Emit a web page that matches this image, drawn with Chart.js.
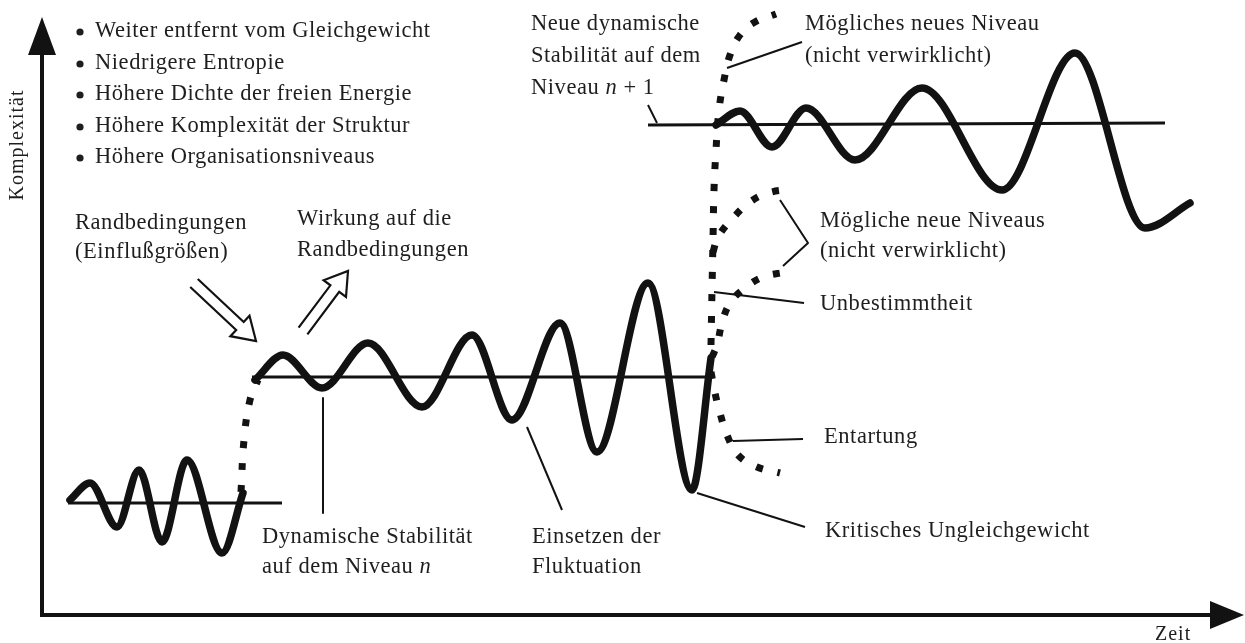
<!DOCTYPE html>
<html><head><meta charset="utf-8">
<script src="https://cdn.jsdelivr.net/npm/chart.js@4.4.0/dist/chart.umd.min.js"></script>
<style>html,body{margin:0;padding:0;background:#fff;overflow:hidden}canvas{display:block}</style>
</head><body>
<canvas id="c" width="1245" height="643"></canvas>
<script>
const lowWaveX  = [70, 90, 117, 139, 162, 187, 222, 243];
const lowWaveY  = [500, 483, 527, 470, 542, 460, 553, 493];
const midWaveX  = [255, 283, 322, 368, 422, 472, 512, 560, 597, 648, 692, 711];
const midWaveY  = [380, 355, 388, 343, 407, 335, 420, 323, 452, 283, 490, 358];
const highWaveX = [716, 740, 772, 806, 855, 922, 1002, 1075, 1145, 1190];
const highWaveY = [125, 111, 147, 108, 160, 88, 190, 53, 228, 203];

const levelLowX = [68, 282];   const levelLowY = [503, 503];
const levelMidX = [252, 712];  const levelMidY = [377, 377];
const levelHighX = [648, 1165]; const levelHighY = [125, 123];

const riseX = [241, 244, 250, 258];           const riseY = [492, 440, 400, 380];
const jumpX = [711, 712, 713, 714, 716, 719, 724, 730, 740, 755, 776];
const jumpY = [345, 290, 240, 190, 150, 110, 80, 55, 35, 22, 14];
const branchUpX = [713, 718, 733, 750, 768, 790];  const branchUpY = [252, 237, 218, 202, 193, 189];
const branchLowX = [712, 717, 722, 730, 745, 763, 786]; const branchLowY = [357, 345, 323, 303, 288, 277, 272];
const decayX = [711, 715, 720, 727, 738, 757, 780]; const decayY = [372, 393, 413, 435, 455, 467, 473];

const leaderLines = [
  [[323, 398], [323, 513]],
  [[527, 427], [562, 510]],
  [[697, 493], [805, 527]],
  [[733, 441], [803, 439]],
  [[714, 292], [804, 303]],
  [[780, 200], [808, 243], [783, 266]],
  [[727, 68], [802, 42]],
  [[648, 105], [657, 123]]
];

const bulletItems = ['Weiter entfernt vom Gleichgewicht', 'Niedrigere Entropie', 'Höhere Dichte der freien Energie', 'Höhere Komplexität der Struktur', 'Höhere Organisationsniveaus'];
const txtRand = ['Randbedingungen', '(Einflußgrößen)'];
const txtWirkung = ['Wirkung auf die', 'Randbedingungen'];
const txtDyn = ['Dynamische Stabilität', [['auf dem Niveau ', false], ['n', true]]];
const txtEins = ['Einsetzen der', 'Fluktuation'];
const txtNeue = ['Neue dynamische', 'Stabilität auf dem', [['Niveau ', false], ['n', true], [' + 1', false]]];
const txtMoeglich1 = ['Mögliches neues Niveau', '(nicht verwirklicht)'];
const txtMoeglich2 = ['Mögliche neue Niveaus', '(nicht verwirklicht)'];
const txtUnbest = ['Unbestimmtheit'];
const txtEnt = ['Entartung'];
const txtKrit = ['Kritisches Ungleichgewicht'];
const axisY = 'Komplexität';
const axisX = 'Zeit';

// ---- layout (positions in chart units) ----
const textBlocks = [
  {lines: txtRand, x: 75, y: [224, 253]},
  {lines: txtWirkung, x: 297, y: [220, 251]},
  {lines: txtDyn, x: 262, y: [538, 568]},
  {lines: txtEins, x: 532, y: [538, 568]},
  {lines: txtNeue, x: 531, y: [25, 57, 89]},
  {lines: txtMoeglich1, x: 805, y: [25, 57]},
  {lines: txtMoeglich2, x: 820, y: [222, 252]},
  {lines: txtUnbest, x: 820, y: [305]},
  {lines: txtEnt, x: 824, y: [438]},
  {lines: txtKrit, x: 825, y: [532]}
];
const bulletLayout = {x: 80, textX: 95, y: [32, 64, 95, 127, 158]};
const arrowsLayout = [
  {tail: [194, 283], tip: [256, 341]},
  {tail: [303, 331], tip: [348, 271]}
];
const axesLayout = {ox: 42, oy: 615, top: 17, right: 1244};

const pts = (xs, ys) => xs.map((x, i) => ({x: x, y: ys[i]}));
const INK = '#121212';
const TXT = '#1e1e1e';

function lineDs(xs, ys, w, extra) {
  return Object.assign({data: pts(xs, ys), borderColor: INK, borderWidth: w, pointRadius: 0,
    fill: false, clip: false, tension: 0, borderCapStyle: 'butt', borderJoinStyle: 'round'}, extra || {});
}
const datasets = [];
datasets.push(lineDs(levelLowX, levelLowY, 3));
datasets.push(lineDs(levelMidX, levelMidY, 3));
datasets.push(lineDs(levelHighX, levelHighY, 3));
leaderLines.forEach(l => datasets.push(lineDs(l.map(p => p[0]), l.map(p => p[1]), 2)));
const wave = {cubicInterpolationMode: 'monotone', borderCapStyle: 'round'};
datasets.push(lineDs(lowWaveX, lowWaveY, 7.5, wave));
datasets.push(lineDs(midWaveX, midWaveY, 7.5, wave));
datasets.push(lineDs(highWaveX, highWaveY, 7.5, wave));
const dots = {borderDash: [7, 15], tension: 0.4, borderWidth: 7};
[[riseX, riseY], [jumpX, jumpY], [branchUpX, branchUpY], [branchLowX, branchLowY], [decayX, decayY]]
  .forEach(d => datasets.push(lineDs(d[0], d[1], 7, dots)));

const decor = {
  id: 'decor',
  afterDatasetsDraw(chart) {
    const ctx = chart.ctx, sx = chart.scales.x, sy = chart.scales.y;
    const px = v => sx.getPixelForValue(v), py = v => sy.getPixelForValue(v);
    ctx.save();
    // axes
    const ox = px(axesLayout.ox), oy = py(axesLayout.oy);
    const top = py(axesLayout.top), right = px(axesLayout.right);
    ctx.strokeStyle = INK; ctx.fillStyle = INK; ctx.lineWidth = 4; ctx.lineCap = 'butt';
    ctx.beginPath(); ctx.moveTo(ox, oy + 2); ctx.lineTo(ox, top + 30); ctx.stroke();
    ctx.beginPath(); ctx.moveTo(ox - 2, oy); ctx.lineTo(right - 30, oy); ctx.stroke();
    ctx.beginPath(); ctx.moveTo(ox, top); ctx.lineTo(ox - 14, top + 38); ctx.lineTo(ox + 14, top + 38); ctx.closePath(); ctx.fill();
    ctx.beginPath(); ctx.moveTo(right, oy); ctx.lineTo(right - 34, oy - 14); ctx.lineTo(right - 34, oy + 14); ctx.closePath(); ctx.fill();
    // double arrows
    ctx.lineWidth = 2.2; ctx.lineJoin = 'miter';
    arrowsLayout.forEach(a => {
      const tx = px(a.tail[0]), ty = py(a.tail[1]), hx = px(a.tip[0]), hy = py(a.tip[1]);
      const L = Math.hypot(hx - tx, hy - ty), ux = (hx - tx) / L, uy = (hy - ty) / L, nx = -uy, ny = ux;
      const s = 5.5, w = 14, h = 22, bx = hx - ux * h, by = hy - uy * h;
      ctx.beginPath();
      ctx.moveTo(tx + nx * s, ty + ny * s);
      ctx.lineTo(bx + nx * s, by + ny * s);
      ctx.lineTo(bx + nx * w, by + ny * w);
      ctx.lineTo(hx, hy);
      ctx.lineTo(bx - nx * w, by - ny * w);
      ctx.lineTo(bx - nx * s, by - ny * s);
      ctx.lineTo(tx - nx * s, ty - ny * s);
      ctx.stroke();
    });
    // text
    ctx.fillStyle = TXT; ctx.textBaseline = 'alphabetic'; ctx.textAlign = 'left';
    try { ctx.letterSpacing = '0.55px'; } catch (e) {}
    const F = '22.5px "Liberation Serif", "DejaVu Serif", serif';
    const FI = 'italic 22.5px "Liberation Serif", "DejaVu Serif", serif';
    const drawLine = (line, x, y) => {
      const runs = typeof line === 'string' ? [[line, false]] : line;
      let cx = x;
      runs.forEach(r => { ctx.font = r[1] ? FI : F; ctx.fillText(r[0], cx, y); cx += ctx.measureText(r[0]).width; });
    };
    bulletItems.forEach((t, i) => {
      const y = py(bulletLayout.y[i]);
      ctx.beginPath(); ctx.arc(px(bulletLayout.x), y, 3.6, 0, Math.PI * 2); ctx.fill();
      drawLine(t, px(bulletLayout.textX), y + 5);
    });
    textBlocks.forEach(b => b.lines.forEach((l, i) => drawLine(l, px(b.x), py(b.y[i]) + 5)));
    // axis titles
    ctx.font = '20px "Liberation Serif", "DejaVu Serif", serif';
    try { ctx.letterSpacing = '1px'; } catch (e) {}
    ctx.save(); ctx.translate(px(18), py(145)); ctx.rotate(-Math.PI / 2);
    ctx.textAlign = 'center'; ctx.textBaseline = 'middle'; ctx.fillText(axisY, 0, 0); ctx.restore();
    ctx.textAlign = 'left'; ctx.fillText(axisX, px(1155), py(640));
    ctx.restore();
  }
};

new Chart(document.getElementById('c'), {
  type: 'line',
  data: {datasets: datasets},
  options: {
    responsive: false, animation: false, devicePixelRatio: 1,
    layout: {padding: 0},
    plugins: {legend: {display: false}, tooltip: {enabled: false}},
    scales: {
      x: {type: 'linear', min: 0, max: 1245, display: false},
      y: {type: 'linear', min: 0, max: 643, reverse: true, display: false}
    },
    elements: {point: {radius: 0}}
  },
  plugins: [decor]
});
</script>
</body></html>
